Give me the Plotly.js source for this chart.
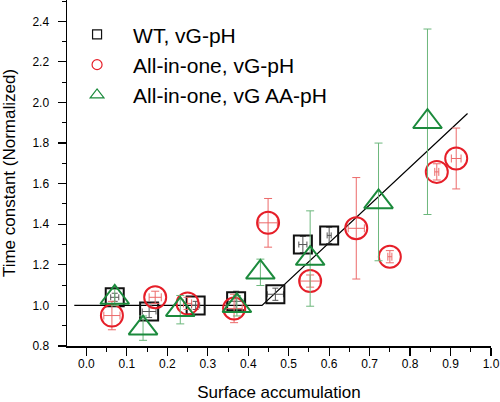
<!DOCTYPE html>
<html>
<head>
<meta charset="utf-8">
<script src="https://cdn.plot.ly/plotly-3.0.1.min.js"></script>
<style>html,body{margin:0;padding:0;background:#fff;}#chart{width:500px;height:402px;}</style>
</head>
<body>
<div id="chart"></div>
<script>
// WT, vG-pH
var wtX    = [0.070, 0.155, 0.270, 0.370, 0.467, 0.535, 0.600];
var wtY    = [1.040, 0.970, 1.000, 1.020, 1.055, 1.300, 1.345];
var wtErrY = [0.020, 0.030, 0.020, 0.050, 0.030, 0.040, 0.040];
var wtErrX = [0.010, 0.017, 0.010, 0.020, 0.020, 0.010, 0.005];

// All-in-one, vG-pH
var aioX    = [0.063, 0.170, 0.250, 0.365, 0.449, 0.553, 0.667, 0.750, 0.866, 0.914];
var aioY    = [0.950, 1.040, 1.010, 0.985, 1.407, 1.120, 1.380, 1.240, 1.658, 1.724];
var aioErrY = [0.070, 0.030, 0.030, 0.070, 0.120, 0.030, 0.250, 0.030, 0.040, 0.150];
var aioErrX = [0.020, 0.015, 0.010, 0.020, 0.023, 0.025, 0.020, 0.005, 0.005, 0.012];

// All-in-one, vG AA-pH
var aaX    = [0.070, 0.140, 0.232, 0.372, 0.430, 0.553, 0.722, 0.843];
var aaY    = [1.039, 0.888, 0.979, 0.998, 1.163, 1.231, 1.510, 1.905];
var aaErrY = [0.040, 0.060, 0.070, 0.050, 0.065, 0.235, 0.290, 0.457];

// Piecewise fit line
var fitX = [-0.030, 0.434, 0.942];
var fitY = [1.000, 1.000, 1.946];

var names = ['WT, vG-pH', 'All-in-one, vG-pH', 'All-in-one, vG AA-pH'];

var cBlack = '#111111', cRed = '#e61e28', cGreen = '#1b8a3c';
var FONT = 'Liberation Sans, Arial, Helvetica, sans-serif';

var traces = [
  {x: fitX, y: fitY, mode: 'lines', line: {color: '#000', width: 1.2}, showlegend: false, hoverinfo: 'skip'},
  {x: wtX, y: wtY, mode: 'markers', showlegend: false,
   marker: {symbol: 'square-open', size: 18, color: cBlack, line: {width: 2, color: cBlack}},
   error_y: {type: 'data', array: wtErrY, color: '#555', thickness: 1, width: 3},
   error_x: {type: 'data', array: wtErrX, color: '#555', thickness: 1, width: 3}},
  {x: aioX, y: aioY, mode: 'markers', showlegend: false,
   marker: {symbol: 'circle-open', size: 22, color: cRed, line: {width: 2, color: cRed}},
   error_y: {type: 'data', array: aioErrY, color: '#ec6a6a', thickness: 1, width: 4},
   error_x: {type: 'data', array: aioErrX, color: '#ec6a6a', thickness: 1, width: 4}},
  {x: aaX, y: aaY, mode: 'markers', showlegend: false,
   marker: {symbol: 'triangle-up-open', size: 25, color: cGreen, line: {width: 2, color: cGreen}},
   error_y: {type: 'data', array: aaErrY, color: '#6cb77c', thickness: 1, width: 4}},
  // legend entries
  {x: [null], y: [null], mode: 'markers', name: names[0], legendgroup: 'a',
   marker: {symbol: 'square-open', size: 9, color: cBlack, line: {width: 1.2, color: cBlack}}},
  {x: [null], y: [null], mode: 'markers', name: names[1], legendgroup: 'b',
   marker: {symbol: 'circle-open', size: 10, color: cRed, line: {width: 1.2, color: cRed}}},
  {x: [null], y: [null], mode: 'markers', name: names[2], legendgroup: 'c',
   marker: {symbol: 'triangle-up-open', size: 12, color: cGreen, line: {width: 1.2, color: cGreen}}}
];

var layout = {
  width: 500, height: 402,
  margin: {l: 67, r: 9, t: 0, b: 56},
  paper_bgcolor: '#fff', plot_bgcolor: '#fff',
  font: {family: FONT, color: '#000'},
  showlegend: true,
  legend: {x: -0.014, y: 0.959, xanchor: 'left', yanchor: 'top', bgcolor: 'rgba(0,0,0,0)',
           font: {size: 21, family: FONT}, tracegroupgap: 0, traceorder: 'grouped', itemwidth: 62},
  xaxis: {
    range: [-0.048, 1.0], showgrid: false, zeroline: false,
    showline: true, linecolor: '#000', linewidth: 1.5,
    ticks: 'outside', ticklen: 8, tickwidth: 1.2, tickcolor: '#000',
    tick0: 0, dtick: 0.1, tickformat: '.1f',
    tickfont: {size: 12, family: FONT}, ticklabelstandoff: -2,
    minor: {dtick: 0.05, tick0: 0, ticks: 'outside', ticklen: 4, tickwidth: 1, tickcolor: '#000', showgrid: false},
    title: {text: 'Surface accumulation', font: {size: 17, family: FONT}, standoff: 24}
  },
  yaxis: {
    range: [0.8, 2.505], showgrid: false, zeroline: false,
    showline: true, linecolor: '#000', linewidth: 1.5,
    ticks: 'outside', ticklen: 8, tickwidth: 1.2, tickcolor: '#000',
    tick0: 0.8, dtick: 0.2, tickformat: '.1f',
    tickfont: {size: 12, family: FONT}, ticklabelstandoff: 6,
    minor: {dtick: 0.1, tick0: 0.8, ticks: 'outside', ticklen: 4, tickwidth: 1, tickcolor: '#000', showgrid: false},
    title: {text: 'Time constant (Normalized)', font: {size: 17, family: FONT}, standoff: 14}
  }
};

Plotly.newPlot('chart', traces, layout, {displayModeBar: false, staticPlot: true});
</script>
</body>
</html>
